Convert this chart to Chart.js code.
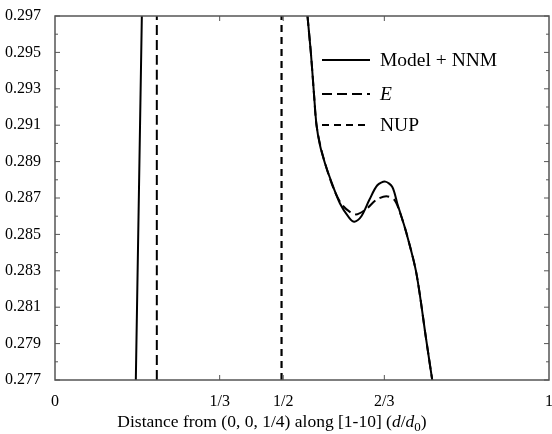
<!DOCTYPE html>
<html>
<head>
<meta charset="utf-8">
<script src="https://cdn.jsdelivr.net/npm/chart.js@4/dist/chart.umd.min.js"></script>
<style>
  html, body { margin: 0; padding: 0; background: #fff; }
  #wrap { width: 552px; height: 434px; }
</style>
</head>
<body>
<div id="wrap"><canvas id="chart" width="552" height="434"></canvas></div>
<script>
// axis ticks
const xTickValues = [0, 1 / 3, 0.462, 2 / 3, 1];
const xTickLabels = ['0', '1/3', '1/2', '2/3', '1'];
const yTickValues = [0.277, 0.279, 0.281, 0.283, 0.285, 0.287, 0.289, 0.291, 0.293, 0.295, 0.297];

// Model + NNM (left branch, gap, right branch)
const modelX = [0.1636, 0.1758, null,
  0.5111, 0.5182, 0.5243, 0.5294, 0.5364, 0.5466, 0.5567, 0.5769, 0.5960, 0.6061,
  0.6202, 0.6364, 0.6525, 0.6687, 0.6828, 0.6929, 0.7111, 0.7313, 0.7515, 0.7636];
const modelY = [0.2770, 0.2970, null,
  0.2970, 0.2949, 0.2927, 0.2910, 0.2899, 0.2889, 0.2881, 0.2867, 0.2859, 0.2857,
  0.2860, 0.2869, 0.2877, 0.2879, 0.2876, 0.2867, 0.2851, 0.2829, 0.2792, 0.2770];

// E
const eX = [0.2061, 0.2061, null,
  0.5111, 0.5182, 0.5243, 0.5294, 0.5405, 0.5628, 0.5818, 0.6081, 0.6303, 0.6505,
  0.6707, 0.6869, 0.6970, 0.7111, 0.7313, 0.7515, 0.7636];
const eY = [0.2770, 0.2970, null,
  0.2970, 0.2949, 0.2927, 0.2910, 0.2895, 0.2876, 0.2866, 0.2861, 0.2864, 0.2869,
  0.2871, 0.2869, 0.2863, 0.2851, 0.2829, 0.2792, 0.2770];

// NUP
const nupX = [0.4586, 0.4586];
const nupY = [0.2770, 0.2970];

const serif = '"Liberation Serif", "Times New Roman", serif';

function toPoints(xs, ys) {
  return xs.map((x, i) => ({ x: x, y: ys[i] }));
}

// inward tick marks + frame
const framePlugin = {
  id: 'frame',
  afterDraw(chart) {
    const { ctx, chartArea: a } = chart;
    const xs = chart.scales.x, ys = chart.scales.y;
    ctx.save();
    ctx.strokeStyle = '#555';
    ctx.lineWidth = 1.5;
    ctx.strokeRect(a.left, a.top, a.right - a.left, a.bottom - a.top);
    ctx.lineWidth = 1;
    ctx.beginPath();
    yTickValues.forEach((v, i) => {
      const py = ys.getPixelForValue(v);
      ctx.moveTo(a.left, py); ctx.lineTo(a.left + 5, py);
      ctx.moveTo(a.right, py); ctx.lineTo(a.right - 5, py);
      if (i < yTickValues.length - 1) {
        const pm = ys.getPixelForValue((v + yTickValues[i + 1]) / 2);
        ctx.moveTo(a.left, pm); ctx.lineTo(a.left + 3, pm);
        ctx.moveTo(a.right, pm); ctx.lineTo(a.right - 3, pm);
      }
    });
    xTickValues.slice(1, -1).forEach(v => {
      const px = xs.getPixelForValue(v);
      ctx.moveTo(px, a.bottom); ctx.lineTo(px, a.bottom - 5);
      ctx.moveTo(px, a.top); ctx.lineTo(px, a.top + 5);
    });
    ctx.stroke();
    ctx.restore();
  }
};

// legend inside the plot, upper right
const legendPlugin = {
  id: 'innerLegend',
  afterDraw(chart) {
    const { ctx, chartArea: a } = chart;
    const rows = [
      { ds: 0, text: 'Model + NNM', italic: false, y: 60 },
      { ds: 1, text: 'E', italic: true, y: 94 },
      { ds: 2, text: 'NUP', italic: false, y: 125 }
    ];
    ctx.save();
    rows.forEach(r => {
      const d = chart.data.datasets[r.ds];
      const x0 = a.right - 227, x1 = a.right - 179;
      ctx.strokeStyle = '#000';
      ctx.lineWidth = d.borderWidth;
      ctx.setLineDash(d.borderDash || []);
      ctx.beginPath();
      ctx.moveTo(x0, r.y); ctx.lineTo(x1, r.y);
      ctx.stroke();
      ctx.setLineDash([]);
      ctx.fillStyle = '#000';
      ctx.font = (r.italic ? 'italic ' : '') + '19.5px ' + serif;
      ctx.textBaseline = 'middle';
      ctx.fillText(r.text, a.right - 169, r.y + 1);
    });
    ctx.restore();
  }
};

// x axis title with italic d and subscript
const xTitlePlugin = {
  id: 'xTitle',
  afterDraw(chart) {
    const { ctx } = chart;
    const parts = [
      ['Distance from (0, 0, 1/4) along [1-10] (', '17.5px ' + serif, 0],
      ['d', 'italic 17.5px ' + serif, 0],
      ['/', '17.5px ' + serif, 0],
      ['d', 'italic 17.5px ' + serif, 0],
      ['0', '13px ' + serif, 4],
      [')', '17.5px ' + serif, 0]
    ];
    ctx.save();
    ctx.fillStyle = '#000';
    ctx.textBaseline = 'alphabetic';
    let total = 0;
    parts.forEach(p => { ctx.font = p[1]; total += ctx.measureText(p[0]).width; });
    let x = 272 - total / 2;
    const base = 427;
    parts.forEach(p => {
      ctx.font = p[1];
      ctx.fillText(p[0], x, base + p[2]);
      x += ctx.measureText(p[0]).width;
    });
    ctx.restore();
  }
};

new Chart(document.getElementById('chart'), {
  type: 'scatter',
  data: {
    datasets: [
      {
        label: 'Model + NNM',
        data: toPoints(modelX, modelY),
        showLine: true,
        borderColor: '#000',
        borderWidth: 2,
        pointRadius: 0,
        tension: 0.3,
        spanGaps: false
      },
      {
        label: 'E',
        data: toPoints(eX, eY),
        showLine: true,
        borderColor: '#000',
        borderWidth: 2,
        borderDash: [10, 5],
        pointRadius: 0,
        tension: 0.3,
        spanGaps: false
      },
      {
        label: 'NUP',
        data: toPoints(nupX, nupY),
        showLine: true,
        borderColor: '#000',
        borderWidth: 2.2,
        borderDash: [7, 5],
        pointRadius: 0
      }
    ]
  },
  options: {
    responsive: false,
    animation: false,
    layout: { padding: { top: 16, right: 3, left: 0, bottom: 0 } },
    plugins: {
      legend: { display: false },
      tooltip: { enabled: false }
    },
    scales: {
      x: {
        type: 'linear',
        min: 0,
        max: 1,
        afterBuildTicks: s => { s.ticks = xTickValues.map(v => ({ value: v })); },
        afterFit: s => { s.height = 54; s.paddingLeft = 0; s.paddingRight = 0; },
        border: { display: false },
        grid: { display: false },
        ticks: {
          autoSkip: false,
          maxRotation: 0,
          padding: 4,
          color: '#000',
          font: { family: serif, size: 16 },
          callback: (v, i) => xTickLabels[i]
        }
      },
      y: {
        type: 'linear',
        min: 0.277,
        max: 0.297,
        afterBuildTicks: s => { s.ticks = yTickValues.map(v => ({ value: v })); },
        afterFit: s => { s.width = 55; s.paddingTop = 0; s.paddingBottom = 0; },
        border: { display: false },
        grid: { display: false },
        ticks: {
          padding: 6,
          color: '#000',
          font: { family: serif, size: 16 },
          callback: v => v.toFixed(3)
        }
      }
    }
  },
  plugins: [framePlugin, legendPlugin, xTitlePlugin]
});
</script>
</body>
</html>
